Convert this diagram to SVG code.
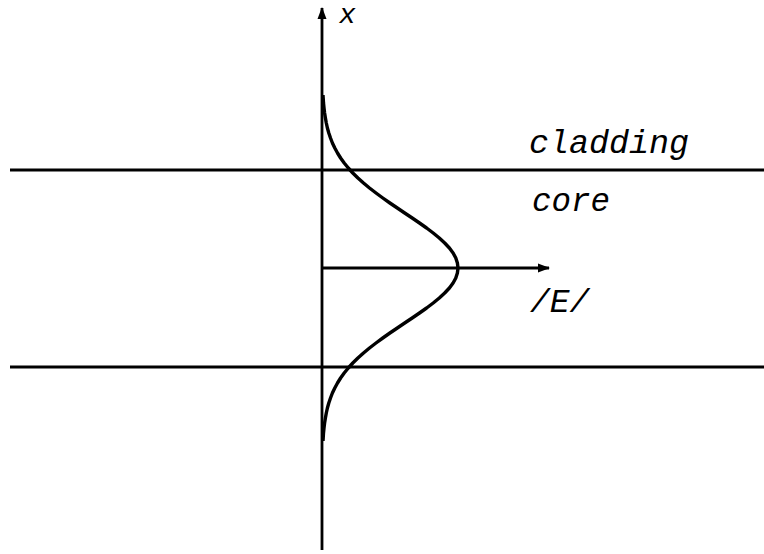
<svg xmlns="http://www.w3.org/2000/svg" width="764" height="554" viewBox="0 0 764 554">
<defs>
<style>
.ln{stroke:#000;stroke-width:2.8;fill:none}
.cv{stroke:#000;stroke-width:3.4;fill:none;stroke-linejoin:round}
.t{font-family:"Liberation Mono","Courier New",monospace;font-style:italic;fill:#000}
</style>
<marker id="ah" viewBox="0 0 12 10" refX="11" refY="5" markerWidth="12" markerHeight="10" markerUnits="userSpaceOnUse" orient="auto">
<path d="M0,0.5 L12,5 L0,9.5 Z" fill="#000"/>
</marker>
</defs>
<rect width="764" height="554" fill="#fff"/>
<g id="connectors">
<line class="ln" x1="322" y1="550" x2="322" y2="8" marker-end="url(#ah)"/>
<line class="ln" x1="10" y1="170" x2="764" y2="170"/>
<line class="ln" x1="10" y1="367" x2="764" y2="367"/>
<line class="ln" x1="322" y1="268" x2="549" y2="268" marker-end="url(#ah)"/>
</g>
<g id="field">
<polyline class="cv" points="323,95 323.2,98 323.5,103 324,108 324.6,113 325.4,118 326.3,123 327.4,128 328.8,133 330.5,138 332.4,143 334.8,148 337.5,153 340.6,158 344.2,163 348.3,168 352.8,173 357.9,178 363.5,183 369.5,188 376,193 382.8,198 389.9,203 397.3,208 404.7,213 412.2,218 419.5,223 426.6,228 433.2,233 439.3,238 444.7,243 449.4,248 453.1,253 455.8,258 457.4,263 458,268 457.4,273 455.8,278 453.1,283 449.4,288 444.7,293 439.3,298 433.2,303 426.6,308 419.5,313 412.2,318 404.7,323 397.3,328 389.9,333 382.8,338 376,343 369.5,348 363.5,353 357.9,358 352.8,363 348.3,368 344.2,373 340.6,378 337.5,383 334.8,388 332.4,393 330.5,398 328.8,403 327.4,408 326.3,413 325.4,418 324.6,423 324,428 323.5,433 323.2,438 323,441"/>
</g>
<g id="label-x"><text class="t" x="339" y="23" font-size="28">x</text></g>
<g id="label-cladding"><text class="t" x="529" y="153" font-size="33" textLength="160" lengthAdjust="spacingAndGlyphs">cladding</text></g>
<g id="label-core"><text class="t" x="532" y="211" font-size="33" textLength="78" lengthAdjust="spacingAndGlyphs">core</text></g>
<g id="label-E"><text class="t" x="530" y="312" font-size="33">/E/</text></g>
</svg>
